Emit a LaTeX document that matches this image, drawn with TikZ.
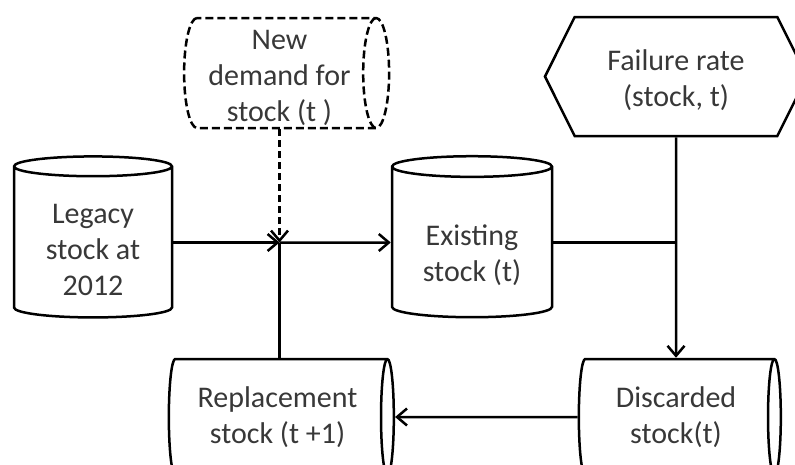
\documentclass[tikz,border=0pt]{standalone}
\usepackage{fontspec}
\setmainfont{Carlito}
\usepackage{tikz}
\usetikzlibrary{shapes.geometric,shapes.symbols,arrows.meta}
\newcommand{\sinktext}[2]{\raisebox{-#1}[\height][\depth]{\begin{tabular}{@{}c@{}}#2\end{tabular}}}

\begin{document}
\begin{tikzpicture}[x=1pt,y=-1pt,line width=2.5pt,
    every node/.style={align=center,text=black!78,font=\fontsize{30}{36}\selectfont},
    stock/.style={cylinder,draw=black,aspect=0.21,inner sep=0pt},
    upright/.style={stock,shape border rotate=90},
    flow/.style={-{Straight Barb[length=10pt,width=17pt]}}]
    \useasboundingbox (0,0) rectangle (795,464);
    % boxes
    \node [stock, aspect=0.24, dash pattern=on 8pt off 4pt, minimum width=110pt, minimum height=205pt] (demand) at (279.5,73) {\sinktext{5pt}{New\\demand for\\stock (t )}};
    \node [signal, signal to=west and east, signal pointer angle=127, draw, minimum width=262pt, minimum height=119pt] (failure) at (676,76.5) {\sinktext{5pt}{Failure rate\\(stock, t)}};
    \node [upright, minimum width=158pt, minimum height=161pt] (legacy) at (93,242.5) {\sinktext{10pt}{Legacy\\stock at\\2012}};
    \node [upright, minimum width=160pt, minimum height=161pt] (existing) at (472,242.5) {\sinktext{14pt}{Existing\\stock (t)}};
    \node [stock, minimum width=116pt, minimum height=225pt] (replacement) at (277.5,417) {Replacement\\stock (t +1)};
    \node [stock, minimum width=116pt, minimum height=202pt] (discarded) at (676,417) {Discarded\\stock(t)};
    % flows
    \coordinate (jn) at (legacy.east -| demand.south);
    \draw [flow] (legacy.east) -- (jn);
    \draw [flow, dash pattern=on 7pt off 4pt] (demand.south) -- (jn);
    \draw [flow] (jn) -- (existing.west);
    \draw (jn) -- (jn |- replacement.north);
    \draw (existing.east) -- (existing.east -| failure.south);
    \draw [flow] (failure.south) -- (discarded.north);
    \draw [flow] (discarded.west) -- (replacement.east);
\end{tikzpicture}
\end{document}
